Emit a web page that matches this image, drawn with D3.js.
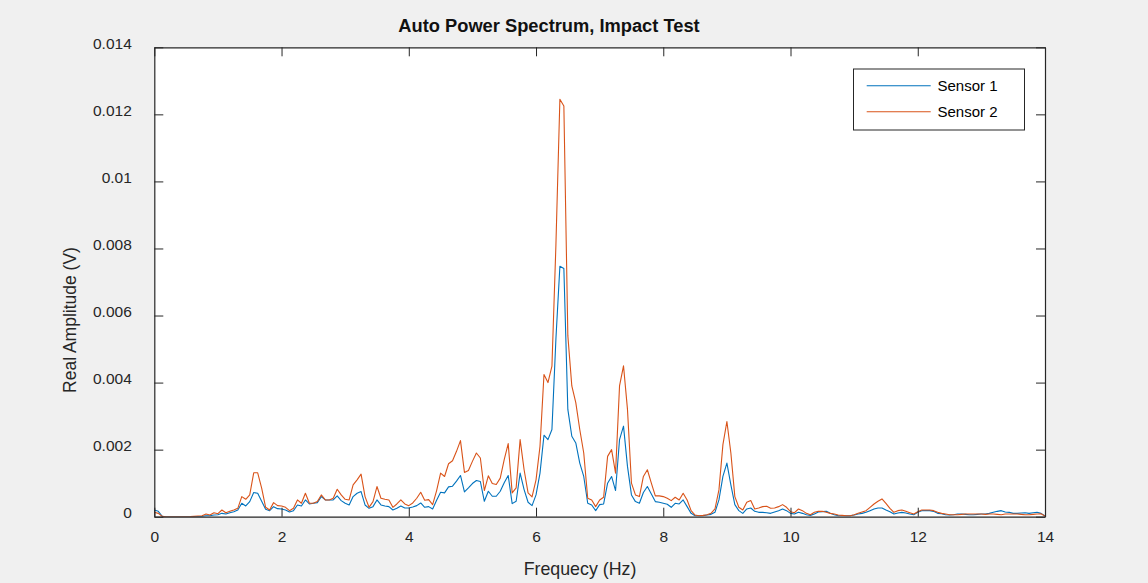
<!DOCTYPE html>
<html>
<head>
<meta charset="utf-8">
<script src="https://cdn.jsdelivr.net/npm/d3@7"></script>
<style>
  html, body { margin: 0; padding: 0; background: #f0f0f0; }
  svg { display: block; }
  text { font-family: "Liberation Sans", Arial, Helvetica, sans-serif; }
</style>
</head>
<body>
<svg id="chart" width="1148" height="583"></svg>
<script>
// ---- Data (amplitudes in units of 1e-4 V, sampled every 0.0625 Hz from 0 to 14 Hz) ----
const UNIT = 1e-4;
const sensor1 = [
  2.0,1.6,0.1,0,0,0,0,0,0,0,
  0.02,0.05,0.1,0.3,0.3,0.5,0.6,1.0,0.8,1.2,
  1.5,2.0,4.0,3.2,4.5,7.2,7.0,4.6,2.2,1.8,
  3.0,2.4,2.3,2.0,1.4,1.8,3.5,3.2,5.0,3.8,
  4.0,4.2,6.0,5.0,5.0,5.0,6.2,4.8,4.0,3.5,
  6.0,7.0,7.5,3.5,2.5,3.0,5.0,3.5,3.2,3.0,
  2.0,2.5,3.2,2.6,2.6,2.9,3.3,4.1,2.8,3.0,
  2.3,4.9,7.3,7.1,8.9,9.1,10.6,12.3,7.4,8.6,
  9.9,10.8,10.5,4.6,7.6,6.1,6.1,7.6,10.1,12.3,
  3.9,4.6,13.0,8.1,4.3,3.3,6.5,13,24.3,23,
  26,53,74.7,74,32,24,22,16,12,4.0,
  3.5,1.8,3.6,3.8,10,12,7.8,23,27,15,
  6.5,4.5,4.0,7.2,9.0,6.8,4.5,4.3,4.0,3.7,
  2.8,4.0,3.8,5.0,3.0,1.0,0.3,0.3,0.3,0.5,
  0.7,1.3,5.0,12,16,9.5,3.6,1.8,1.0,2.3,
  2.6,1.6,1.3,1.3,1.2,1.0,1.4,1.8,2.3,1.8,
  1.0,0.8,1.3,1.0,0.6,0.4,0.8,1.4,1.5,1.6,
  1.0,0.6,0.3,0.3,0.3,0.3,0.5,0.8,1.0,1.3,
  1.8,2.3,2.6,2.6,2.0,1.5,0.8,1.1,1.3,1.1,
  0.8,0.6,1.3,1.8,1.8,1.8,1.6,1.0,0.9,0.6,
  0.5,0.6,0.8,0.8,0.7,0.6,0.6,0.7,0.8,0.8,
  1.0,1.3,1.6,1.8,1.4,1.3,1.0,1.0,1.1,1.2,
  1.0,1.2,1.3,1.0,0.2
];
const sensor2 = [
  1.3,1.0,0.1,0,0,0,0,0,0,0.02,
  0.1,0.2,0.3,0.8,0.5,1.2,0.9,2.0,1.2,1.6,
  2.0,2.5,6.0,5.2,6.5,13.1,13.1,8.5,2.8,2.0,
  4.2,3.3,3.2,2.8,1.8,2.5,5.0,4.0,7.0,4.0,
  4.0,4.5,6.5,5.0,5.0,5.5,8.2,6.5,5.2,5.0,
  9.5,11.0,12.7,6.0,2.8,4.5,9.0,5.5,5.2,5.0,
  2.8,3.8,5.0,3.8,3.3,4.1,5.5,7.3,4.9,5.1,
  3.6,7.8,13.0,12.0,15.8,16.7,19.5,22.7,13.2,13.8,
  16.5,19.0,17.5,7.8,12.2,9.9,9.6,11.5,17.0,21.8,
  7.1,8.6,23.0,14.0,7.1,5.9,11,21,42.4,40,
  44.9,81,124.5,122.5,54,39,34,26,19,5.5,
  5.0,3.0,5.0,5.8,18,20,13,39,45,32,
  10,6.5,6.0,12,14,10,6.2,6.2,6.0,5.5,
  4.8,5.8,5.0,7.0,5.0,1.8,0.5,0.3,0.4,0.6,
  1.0,2.3,8.0,21.5,28.4,19,6.0,2.8,2.0,4.3,
  4.8,2.3,2.6,3.0,3.1,2.5,2.6,3.0,3.6,2.8,
  1.5,1.2,2.3,1.8,1.0,0.6,1.3,1.6,1.6,1.3,
  1.0,0.8,0.5,0.4,0.3,0.3,0.6,1.0,1.4,1.8,
  2.8,3.8,4.6,5.3,4.0,2.5,1.3,1.8,2.0,1.6,
  1.2,0.8,1.5,2.0,2.0,2.0,1.8,1.3,1.0,0.8,
  0.6,0.6,0.6,0.7,0.8,0.8,0.8,0.8,0.8,0.7,
  0.8,0.8,0.7,0.6,0.8,0.8,0.8,0.8,0.7,0.6,
  0.6,0.7,0.8,0.9,0.2
];
const F_MAX = 14;
const xTicks = [0, 2, 4, 6, 8, 10, 12, 14];
const yTicks = [0, 0.002, 0.004, 0.006, 0.008, 0.01, 0.012, 0.014];
const yTickLabels = ["0", "0.002", "0.004", "0.006", "0.008", "0.01", "0.012", "0.014"];
const seriesNames = ["Sensor 1", "Sensor 2"];
const seriesColors = ["#0072BD", "#D95319"];

const titleText = "Auto Power Spectrum, Impact Test";
const xLabelText = "Frequecy (Hz)";
const yLabelText = "Real Amplitude (V)";

// frequency grid
const freq = d3.range(sensor1.length).map(i => i * F_MAX / (sensor1.length - 1));

// ---- Layout ----
const L = 154.3, R = 1045, T = 47.3, B = 516.7;
const axisColor = "#262626";
const svg = d3.select("#chart");

svg.append("rect").attr("width", 1148).attr("height", 583).attr("fill", "#f0f0f0");
svg.append("rect").attr("x", L).attr("y", T).attr("width", R - L).attr("height", B - T).attr("fill", "#ffffff");

const x = d3.scaleLinear().domain([0, F_MAX]).range([L, R]);
const y = d3.scaleLinear().domain([0, 0.014]).range([B, T]);

svg.append("clipPath").attr("id", "plotclip")
  .append("rect").attr("x", L).attr("y", T - 1).attr("width", R - L).attr("height", B - T + 1);

const line = d3.line().x(d => x(d[0])).y(d => y(d[1]));
const allSeries = [sensor1, sensor2];
const g = svg.append("g").attr("clip-path", "url(#plotclip)");
allSeries.forEach((s, k) => {
  g.append("path")
    .datum(s.map((v, i) => [freq[i], v * UNIT]))
    .attr("d", line)
    .attr("fill", "none")
    .attr("stroke", seriesColors[k])
    .attr("stroke-width", 1.1)
    .attr("stroke-linejoin", "round");
});

// ---- Axes (MATLAB-style box with inner ticks) ----
const tickLen = 9;
const fontTick = 15.5;
const xAxisBottom = d3.axisBottom(x).tickValues(xTicks).tickSizeInner(-tickLen).tickSizeOuter(0).tickPadding(14).tickFormat(d3.format("d"));
const gxb = svg.append("g").attr("transform", `translate(0,${B})`).call(xAxisBottom);
const xAxisTop = d3.axisTop(x).tickValues(xTicks).tickSizeInner(-tickLen).tickSizeOuter(0).tickFormat("");
const gxt = svg.append("g").attr("transform", `translate(0,${T})`).call(xAxisTop);
const yAxisLeft = d3.axisLeft(y).tickValues(yTicks).tickSizeInner(-tickLen).tickSizeOuter(0).tickPadding(22.5)
  .tickFormat((d, i) => yTickLabels[i]);
const gyl = svg.append("g").attr("transform", `translate(${L},0)`).call(yAxisLeft);
const yAxisRight = d3.axisRight(y).tickValues(yTicks).tickSizeInner(-tickLen).tickSizeOuter(0).tickFormat("");
const gyr = svg.append("g").attr("transform", `translate(${R},0)`).call(yAxisRight);

[gxb, gxt, gyl, gyr].forEach(a => {
  a.select(".domain").attr("stroke", axisColor).attr("stroke-width", 1.2);
  a.selectAll(".tick line").attr("stroke", axisColor).attr("stroke-width", 1);
  a.selectAll(".tick text").attr("fill", axisColor).attr("font-size", fontTick)
    .attr("font-family", "'Liberation Sans', Arial, sans-serif");
});
gyl.selectAll(".tick text").attr("dy", "0.07em");
gxb.selectAll(".tick text").attr("dy", "0.71em");

// ---- Title & labels ----
svg.append("text").attr("x", 549).attr("y", 32).attr("text-anchor", "middle")
  .attr("font-size", 18.3).attr("font-weight", "bold").attr("fill", "#111")
  .text(titleText);
svg.append("text").attr("x", 580).attr("y", 574.5).attr("text-anchor", "middle")
  .attr("font-size", 17.8).attr("fill", axisColor)
  .text(xLabelText);
svg.append("text").attr("transform", "translate(75.5,320) rotate(-90)").attr("text-anchor", "middle")
  .attr("font-size", 17.5).attr("fill", axisColor)
  .text(yLabelText);

// ---- Legend ----
const lg = svg.append("g");
lg.append("rect").attr("x", 853.5).attr("y", 69).attr("width", 171).attr("height", 61)
  .attr("fill", "#fff").attr("stroke", axisColor).attr("stroke-width", 1);
seriesNames.forEach((name, k) => {
  const ly = 85.7 + k * 26;
  lg.append("line").attr("x1", 866.7).attr("x2", 930.7).attr("y1", ly).attr("y2", ly)
    .attr("stroke", seriesColors[k]).attr("stroke-width", 1.1);
  lg.append("text").attr("x", 937.5).attr("y", ly + 5.3).attr("font-size", 15)
    .attr("fill", "#000").text(name);
});
</script>
</body>
</html>
